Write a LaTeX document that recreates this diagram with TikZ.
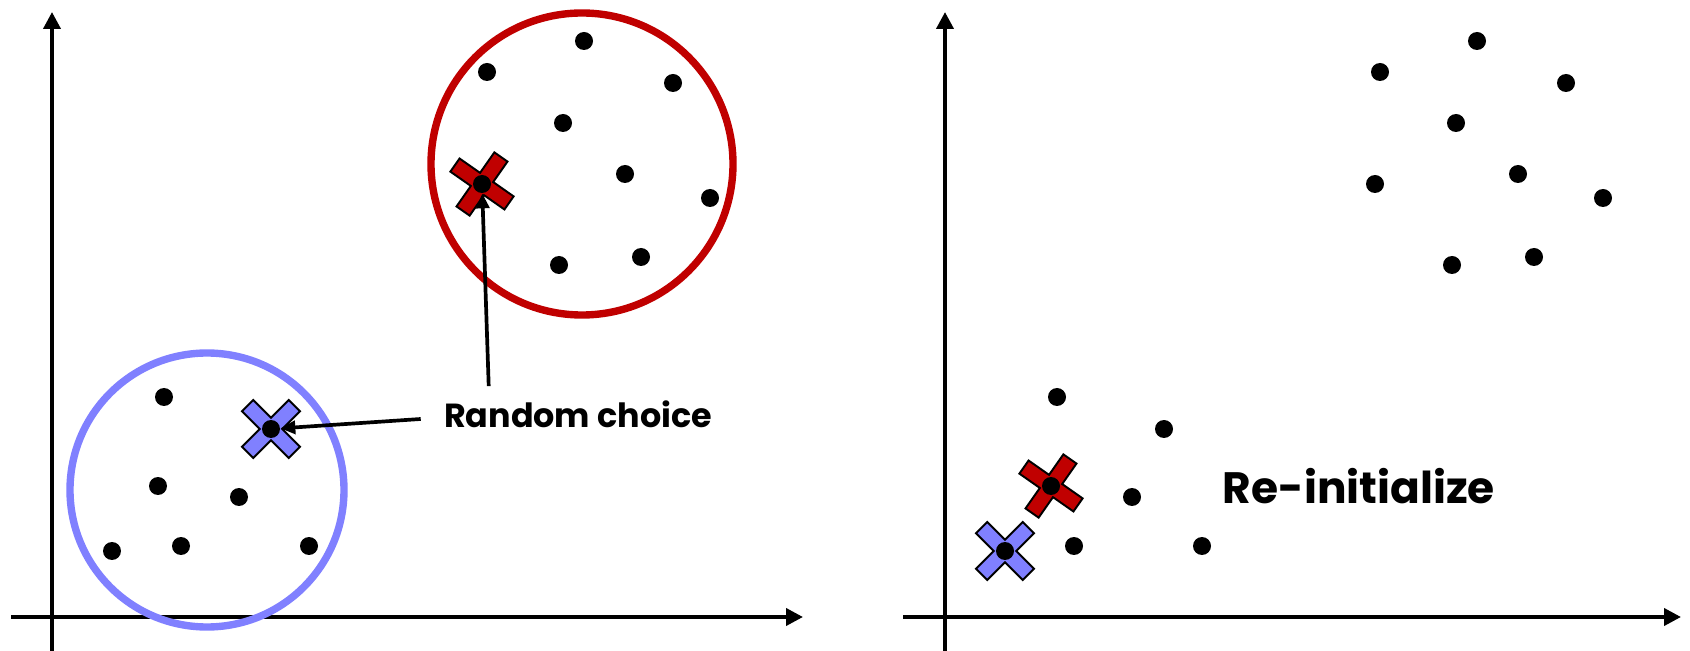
\documentclass[tikz,border=0pt]{standalone}
\usepackage{fontspec}
\usepackage{tikz}
\usetikzlibrary{arrows.meta, positioning}
\newfontfamily\lblfont{Poppins}
\definecolor{clred}{RGB}{192,0,0}
\definecolor{clblue}{RGB}{128,128,255}
\tikzset{pics/centroid/.style={code={
  \draw[line width=1.1pt, pic actions] (-8,-33) -- (8,-33) -- (8,-8) -- (33,-8) -- (33,8) -- (8,8)
    -- (8,33) -- (-8,33) -- (-8,8) -- (-33,8) -- (-33,-8) -- (-8,-8) -- cycle;}}}

\begin{document}
\begin{tikzpicture}[x=0.02cm, y=-0.02cm,
  axis/.style={line width=2.2pt, -{Triangle[length=0.34cm, width=0.34cm]}},
  ptr/.style={line width=2.1pt, -{Triangle[length=0.3cm, width=0.26cm]}},
  dot/.style={circle, fill=black, inner sep=0pt, minimum size=0.36cm},
  ring/.style={line width=4.2pt},
  lbl/.style={inner sep=0pt, font=\lblfont\bfseries}]
  \useasboundingbox (0,0) rectangle (1690,651);
  % axes
  \coordinate (yb1) at (52,651);  \coordinate (yt1) at (52,12);
  \coordinate (xl1) at (11,617);  \coordinate (xr1) at (803,617);
  \coordinate (yb2) at (945,651); \coordinate (yt2) at (945,12);
  \coordinate (xl2) at (903,617); \coordinate (xr2) at (1681,617);
  \draw[axis] (yb1) -- (yt1);
  \draw[axis] (xl1) -- (xr1);
  \draw[axis] (yb2) -- (yt2);
  \draw[axis] (xl2) -- (xr2);
  % clusters on the left
  \draw[ring, clred] (582,164) circle (151);
  \draw[ring, clblue] (207,490) circle (137);
  \foreach \n/\x/\y in {r1/584/41, r2/487/72, r3/673/83, r4/563/123, r5/625/174,
      r6/710/198, r7/482/184, r8/559/265, r9/641/257,
      b1/164/397, b2/271/429, b3/158/486, b4/239/497, b5/112/551, b6/181/546, b7/309/546}
    \coordinate (L\n) at (\x,\y);
  \pic[fill=clred, rotate=-35] at (Lr7) {centroid};
  \pic[fill=clblue, rotate=45] at (Lb2) {centroid};
  \foreach \n/\x/\y in {r1/584/41, r2/487/72, r3/673/83, r4/563/123, r5/625/174,
      r6/710/198, r7/482/184, r8/559/265, r9/641/257,
      b1/164/397, b2/271/429, b3/158/486, b4/239/497, b5/112/551, b6/181/546, b7/309/546}
    \node[dot] (L\n) at (\x,\y) {};
  \node[lbl, font=\lblfont\bfseries\fontsize{19}{22}\selectfont] (choice) at (578,414) {Random choice};
  \draw[ptr] ([xshift=0.9cm, yshift=0.28cm]choice.north west) -- (Lr7);
  \draw[ptr] ([xshift=-0.46cm, yshift=-0.1cm]choice.west) -- (Lb2);
  % right: centres moved
  \foreach \n/\x/\y in {r1/584/41, r2/487/72, r3/673/83, r4/563/123, r5/625/174,
      r6/710/198, r7/482/184, r8/559/265, r9/641/257,
      b1/164/397, b2/271/429, b3/158/486, b4/239/497, b5/112/551, b6/181/546, b7/309/546}
    \coordinate (R\n) at (\x+893,\y);
  \pic[fill=clred, rotate=-35] at (Rb3) {centroid};
  \pic[fill=clblue, rotate=45] at (Rb5) {centroid};
  \foreach \n/\x/\y in {r1/584/41, r2/487/72, r3/673/83, r4/563/123, r5/625/174,
      r6/710/198, r7/482/184, r8/559/265, r9/641/257,
      b1/164/397, b2/271/429, b3/158/486, b4/239/497, b5/112/551, b6/181/546, b7/309/546}
    \node[dot] (R\n) at (\x+893,\y) {};
  \node[lbl, font=\lblfont\bfseries\fontsize{25}{30}\selectfont] (reinit) at (1359,486) {Re-initialize};
\end{tikzpicture}
\end{document}
